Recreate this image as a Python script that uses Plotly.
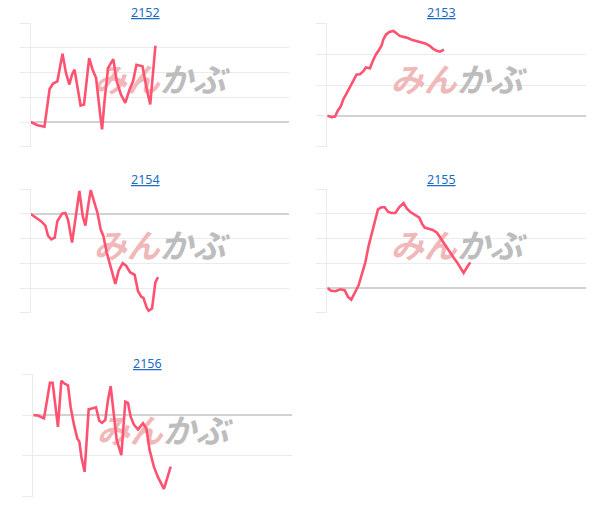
import plotly.graph_objects as go

W, H = 599, 522

codes = ["2152", "2153", "2154", "2155", "2156"]

# time index (0..300 = full session) and % change values
t2152 = [0, 8, 16, 22, 26, 31, 37, 41, 45, 48, 51, 58, 62, 68, 72, 76, 81, 83, 86, 90,
         96, 100, 105, 110, 115, 119, 123, 130, 135, 139, 145]
v2152 = [0, -0.13, -0.19, 1.34, 1.56, 1.65, 2.77, 1.99, 1.52, 1.92, 2.12, 0.67, 0.71, 2.59,
         2.12, 1.79, 0.24, -0.30, 0.91, 2.19, 2.55, 1.65, 1.11, 0.78, 1.32, 1.65, 2.32, 2.26,
         1.32, 0.71, 3.09]

t2153 = [0, 5, 9, 12, 15.5, 18.6, 22.4, 26.3, 30.2, 34, 37.9, 41.8, 44.8, 49.5, 52.6, 56.4,
         60.3, 63, 64.9, 68, 71.9, 76.5, 79.6, 83.5, 88.1, 92.8, 97.8, 103.6, 109.4, 114.4,
         119.1, 122.9, 127.6, 130.7, 135.3]
v2153 = [0, -0.04, -0.02, 0.16, 0.30, 0.54, 0.73, 0.95, 1.13, 1.34, 1.35, 1.45, 1.57, 1.54,
         1.77, 1.99, 2.15, 2.28, 2.47, 2.63, 2.72, 2.75, 2.69, 2.60, 2.56, 2.53, 2.47, 2.42,
         2.39, 2.34, 2.26, 2.17, 2.10, 2.08, 2.15]

t2154 = [0, 6.2, 12, 17.1, 20.2, 24, 27.9, 31, 36.4, 40.3, 43.4, 48.1, 51.9, 56.6, 60.5,
         63.6, 66.7, 69.8, 73.6, 77.5, 81.4, 84.5, 88.4, 92.2, 98.4, 102.3, 107, 110.9, 115.5,
         120.9, 124.8, 128.7, 131, 134.9, 137.2, 141.1, 145, 148.1]
v2154 = [0, -0.16, -0.29, -0.47, -0.89, -1.03, -0.96, -0.29, 0.01, 0.04, -0.23, -1.16, -0.23,
         0.93, -0.09, -0.47, 0.31, 0.97, 0.51, 0.07, -0.63, -0.89, -1.56, -2.09, -2.83, -2.29,
         -1.99, -2.09, -2.36, -2.47, -3.13, -3.36, -3.39, -3.80, -3.92, -3.83, -2.76, -2.56]

t2155 = [0, 4.6, 9.3, 15.1, 20.1, 24, 27.8, 32.5, 36.3, 40.2, 44.1, 47.9, 51.8, 54.9, 58.8,
         62.6, 66.5, 70.4, 74.2, 78.9, 83.5, 88.5, 92.4, 96.3, 102.1, 106.7, 109.8, 112.9,
         117.5, 122.2, 127.2, 131.1, 134.9, 138.8, 142.7, 146.5, 150.4, 154.3, 158.1, 162,
         165.8]
v2155 = [0, -0.11, -0.13, -0.05, -0.09, -0.36, -0.47, -0.16, 0.11, 0.57, 1.04, 1.71, 2.24,
         2.77, 3.19, 3.27, 3.27, 3.09, 3.04, 3.04, 3.28, 3.44, 3.21, 3.08, 2.95, 2.85, 2.61,
         2.45, 2.40, 2.35, 2.24, 2.03, 1.83, 1.63, 1.43, 1.23, 1.05, 0.83, 0.61, 0.84, 1.04]

t2156 = [0, 5.4, 12.4, 16.2, 19.3, 22.4, 25.5, 28.6, 32.5, 36.3, 40.2, 43.3, 47.2, 51, 53.4,
         55.7, 59.5, 64.2, 68, 72.7, 76.5, 79.6, 83.5, 86.6, 89.7, 92.8, 96.7, 102.1, 106.7,
         109.8, 112.9, 116.8, 121.4, 127.2, 131.1, 134.9, 139.9, 144.6, 148.5, 151.5, 155.4,
         159.3]
v2156 = [0, -0.01, -0.08, 0.45, 0.79, 0.79, 0.20, -0.29, 0.84, 0.77, 0.73, 0.20, -0.24, -0.57,
         -0.65, -1.02, -1.39, 0.14, 0.16, 0.19, -0.14, -0.19, -0.12, 0.37, 0.71, 0.12, -0.61,
         -0.98, 0.33, 0.30, -0.04, -0.24, -0.35, -0.20, -0.33, -0.86, -1.27, -1.52, -1.70,
         -1.81, -1.54, -1.26]

y_lo = [-1, -1, -4, -1, -2]
y_hi = [4, 3, 1, 4, 1]
x_full = 300

series_t = [t2152, t2153, t2154, t2155, t2156]
series_v = [v2152, v2153, v2154, v2155, v2156]

# panel boxes in window pixels: (left, right, top, bottom)
boxes = [
    (30.7, 288.7, 23.3, 146.7),
    (327.3, 586.0, 23.3, 146.7),
    (30.7, 288.7, 189.3, 312.7),
    (327.3, 586.0, 189.3, 312.7),
    (33.3, 292.0, 374.3, 496.7),
]
title_pos = [(145, 12.3), (441.7, 12.3), (145, 179), (441.7, 179), (147.7, 363.3)]

LINE = "#ff5270"
GRID = "#ebebeb"
ZERO = "#d2d2d2"


def px(x):
    return x / W


def py(y):
    return 1 - y / H


fig = go.Figure()
layout = dict(
    width=W, height=H, margin=dict(l=0, r=0, t=0, b=0),
    paper_bgcolor="white", plot_bgcolor="white", showlegend=False,
    annotations=[],
)

for i in range(5):
    n = "" if i == 0 else str(i + 1)
    xa, ya = "x" + n, "y" + n
    l, r, t, b = boxes[i]
    lo, hi = y_lo[i], y_hi[i]
    wm = ("<b><i><span style='color:#f0b8b8'>みん</span>"
          "<span style='color:#bdbdbd'>かぶ</span></i></b>")
    fig.add_trace(go.Scatter(
        x=[x_full / 2], y=[(lo + hi) / 2 + (hi - lo) * 0.01], mode="text", text=[wm],
        textposition="middle center",
        textfont=dict(size=33, family="Noto Sans CJK JP"),
        hoverinfo="skip", xaxis=xa, yaxis=ya))
    fig.add_trace(go.Scatter(
        x=series_t[i], y=series_v[i], mode="lines",
        line=dict(color=LINE, width=2.6), xaxis=xa, yaxis=ya, hoverinfo="skip"))
    layout["xaxis" + n] = dict(
        domain=[px(l), px(r)], range=[0, x_full], showgrid=False, zeroline=False,
        showline=False, showticklabels=False, ticks="", anchor=ya, fixedrange=True)
    layout["yaxis" + n] = dict(
        domain=[py(b), py(t)], range=[lo, hi], dtick=1, tick0=0,
        showgrid=True, gridcolor=GRID, gridwidth=1,
        zeroline=True, zerolinecolor=ZERO, zerolinewidth=1.5,
        showline=True, linecolor=GRID, linewidth=1,
        ticks="outside", ticklen=10, tickcolor=GRID, tickwidth=1,
        showticklabels=False, anchor=xa, fixedrange=True)
    tx, ty = title_pos[i]
    layout["annotations"].append(dict(
        x=px(tx), y=py(ty), xref="paper", yref="paper",
        xanchor="center", yanchor="middle", showarrow=False,
        text="<span style='text-decoration:underline'>" + codes[i] + "</span>",
        font=dict(size=12.5, color="#1a6cc6", family="Noto Sans")))

fig.update_layout(**layout)
fig.write_html(
    "out.html",
    config={"displayModeBar": False},
    post_script="document.body.style.margin='0';document.body.style.overflow='hidden';",
)
